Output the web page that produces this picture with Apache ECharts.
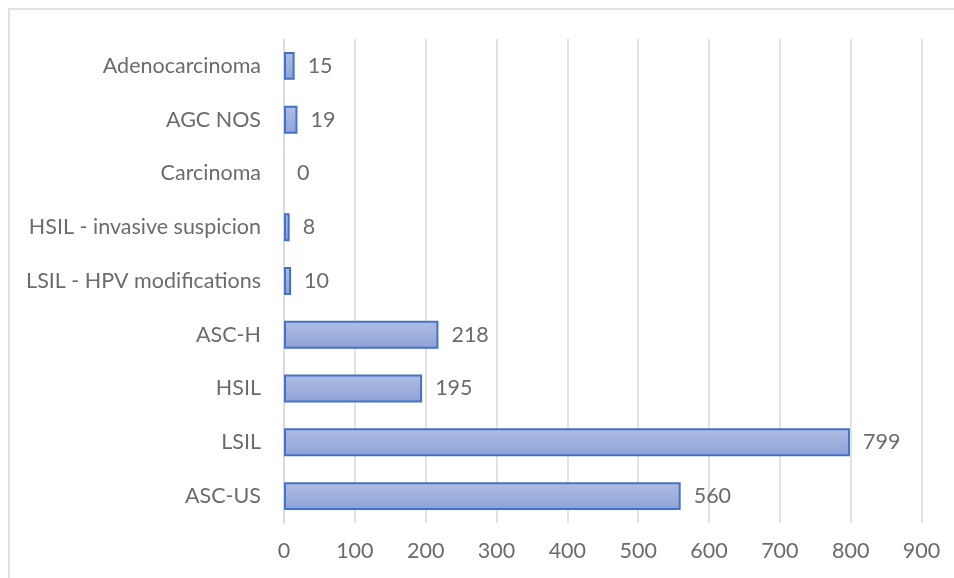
<!DOCTYPE html>
<html><head><meta charset="utf-8">
<script src="https://cdn.jsdelivr.net/npm/echarts@6/dist/echarts.min.js"></script>
<style>html,body{margin:0;padding:0;background:#fff}#c{width:954px;height:578px}</style>
</head><body><div id="c"></div>
<script>
const categories = ['ASC-US','LSIL','HSIL','ASC-H','LSIL - HPV modifications','HSIL - invasive suspicion','Carcinoma','AGC NOS','Adenocarcinoma'];
const values = [560,799,195,218,10,8,0,19,15];
const xTicks = {min:0,max:900,interval:100};
const FONT = 'Lato';
const chart = echarts.init(document.getElementById('c'));
chart.setOption({
  animation:false,
  graphic:[{type:'rect',shape:{x:9,y:9,width:970,height:600},style:{fill:'none',stroke:'#d9d9d9',lineWidth:1.5},silent:true}],
  grid:{left:284,right:32.5,top:39,bottom:55,containLabel:false},
  xAxis:{type:'value',min:xTicks.min,max:xTicks.max,interval:xTicks.interval,
    axisLine:{show:false},axisTick:{show:false},
    splitLine:{lineStyle:{color:'#d9d9d9',width:1.5}},
    axisLabel:{color:'#6b6b6b',fontFamily:FONT,fontSize:21.5,margin:17}},
  yAxis:{type:'category',data:categories,
    axisLine:{show:true,lineStyle:{color:'#d9d9d9',width:1.5}},axisTick:{show:false},
    axisLabel:{color:'#6b6b6b',fontFamily:FONT,fontSize:21.5,margin:23}},
  series:[{type:'bar',barCategoryGap:'48%',
    data:values.map(v=>v===0?{value:v,itemStyle:{borderWidth:0,color:'rgba(0,0,0,0)'}}:v),
    itemStyle:{borderColor:'#4472c4',borderWidth:2,
      color:new echarts.graphic.LinearGradient(0,0,0,1,[{offset:0,color:'#aebde3'},{offset:1,color:'#8da2d8'}])},
    label:{show:true,position:'right',distance:13,color:'#6b6b6b',fontFamily:FONT,fontSize:21.5}}]
});
</script></body></html>
